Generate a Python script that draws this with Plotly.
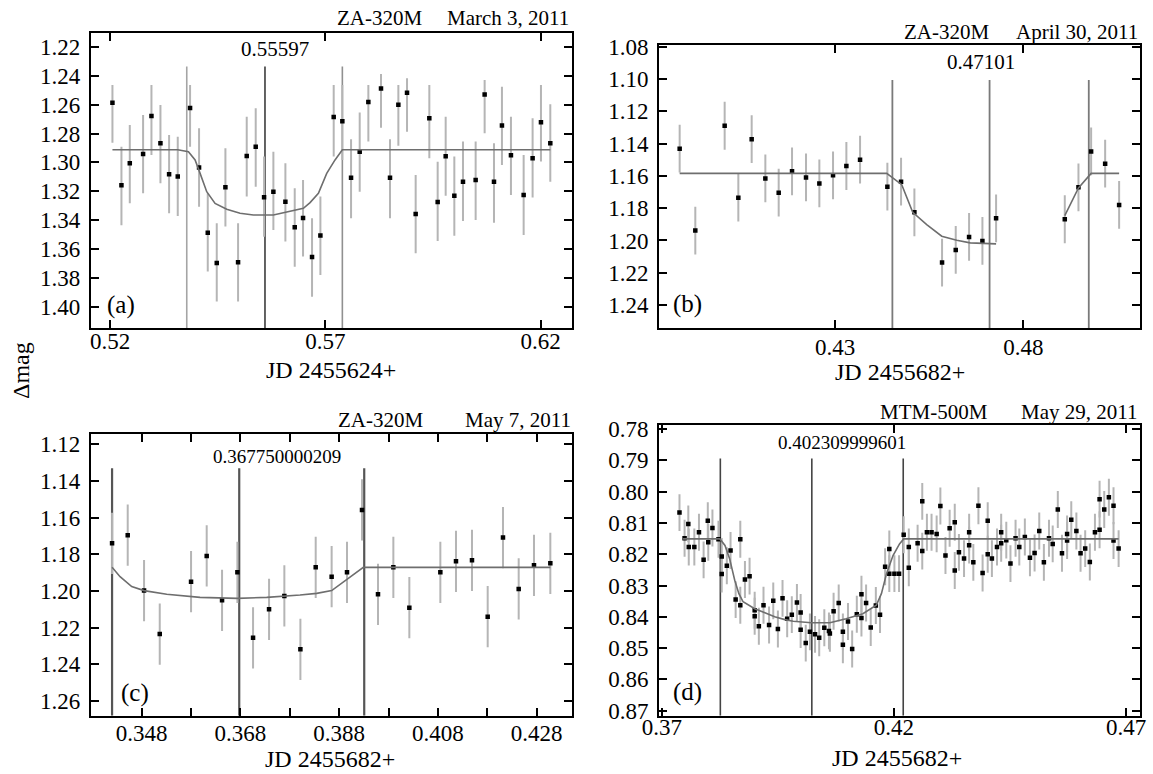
import plotly.graph_objects as go

FONT = "Liberation Serif"

# ---------------- Panel (a): ZA-320M, March 3, 2011 ----------------
A_X = [0.52054, 0.52263, 0.52457, 0.52766, 0.52960, 0.53169, 0.53370, 0.53571, 0.53857, 0.54066,
       0.54268, 0.54477, 0.54678, 0.54972, 0.55173, 0.55382, 0.55576, 0.55792, 0.56071, 0.56288,
       0.56481, 0.56690, 0.56884, 0.57193, 0.57394, 0.57596, 0.57797, 0.57998, 0.58292, 0.58501,
       0.58695, 0.58896, 0.59097, 0.59414, 0.59608, 0.59794, 0.59995, 0.60196, 0.60490, 0.60699,
       0.60916, 0.61101, 0.61310, 0.61605, 0.61813, 0.62007, 0.62224]
A_Y = [1.2586, 1.3159, 1.3006, 1.2942, 1.2678, 1.2868, 1.3083, 1.3097, 1.2623, 1.3036,
       1.3487, 1.3697, 1.3173, 1.3693, 1.2956, 1.2891, 1.3242, 1.3203, 1.3272, 1.3450,
       1.3385, 1.3656, 1.3506, 1.2685, 1.2715, 1.3106, 1.2926, 1.2581, 1.2487, 1.3106,
       1.2600, 1.2517, 1.3358, 1.2694, 1.3274, 1.2958, 1.3231, 1.3134, 1.3122, 1.2530,
       1.3134, 1.2745, 1.2951, 1.3226, 1.2972, 1.2722, 1.2868]
A_BAR_TOP = [1.2463, 1.2891, 1.2741, 1.2671, 1.2463, 1.2602, 1.2810, 1.2822, 1.2463, 1.2764,
             1.3214, 1.3422, 1.2902, 1.3422, 1.2683, 1.2625, 1.2960, 1.2926, 1.3006, 1.3180,
             1.3122, 1.3388, 1.3237, 1.2463, 1.2463, 1.2840, 1.2655, 1.2463, 1.2387, 1.2840,
             1.2463, 1.2417, 1.3087, 1.2463, 1.2995, 1.2683, 1.2960, 1.2856, 1.2856, 1.2429,
             1.2868, 1.2475, 1.2683, 1.2949, 1.2694, 1.2463, 1.2597]
A_BAR_BOT = [1.2863, 1.3436, 1.3284, 1.3214, 1.2949, 1.3145, 1.3353, 1.3372, 1.2891, 1.3307,
             1.3757, 1.3965, 1.3445, 1.3965, 1.3237, 1.3168, 1.3515, 1.3469, 1.3549, 1.3723,
             1.3653, 1.3931, 1.3780, 1.2960, 1.2983, 1.3388, 1.3203, 1.2856, 1.2759, 1.3388,
             1.2884, 1.2787, 1.3630, 1.2972, 1.3545, 1.3231, 1.3508, 1.3406, 1.3399, 1.2798,
             1.3418, 1.3018, 1.3226, 1.3503, 1.3244, 1.2993, 1.3134]
A_FIT_X = [0.52054, 0.53571, 0.53819, 0.53974, 0.54090, 0.54244, 0.54438, 0.54709, 0.55018, 0.55328,
           0.55792, 0.56102, 0.56489, 0.56644, 0.56838, 0.57031, 0.57224, 0.57394, 0.62224]
A_FIT_Y = [1.2912, 1.2912, 1.2926, 1.2983, 1.3076, 1.3203, 1.3284, 1.3325, 1.3353, 1.3365,
           1.3365, 1.3346, 1.3318, 1.3279, 1.3214, 1.3076, 1.2983, 1.2912, 1.2912]
A_EVENTS = [0.53780, 0.55597, 0.57394]
A_EVENT_TOP = 1.2336
A_XTICKS = [0.52, 0.57, 0.62]

# ---------------- Panel (b): ZA-320M, April 30, 2011 ----------------
B_X = [0.38877, 0.39292, 0.40071, 0.40434, 0.40788, 0.41151, 0.41505, 0.41859, 0.42230, 0.42584,
       0.42947, 0.43301, 0.43664, 0.44389, 0.44752, 0.45106, 0.45840, 0.46203, 0.46557, 0.46911,
       0.47274, 0.49097, 0.49460, 0.49796, 0.50168, 0.50539]
B_Y = [1.1432, 1.1939, 1.1290, 1.1735, 1.1373, 1.1616, 1.1704, 1.1572, 1.1610, 1.1647,
       1.1597, 1.1539, 1.1500, 1.1667, 1.1636, 1.1826, 1.2137, 1.2059, 1.1978, 1.2003,
       1.1863, 1.1869, 1.1671, 1.1449, 1.1525, 1.1780]
B_ERR = 0.0148
B_FIT_X = [0.38877, 0.44372, 0.44770, 0.45062, 0.45433, 0.45832, 0.46230, 0.46587, 0.47274, None,
           0.49097, 0.49460, 0.49796, 0.50539]
B_FIT_Y = [1.1585, 1.1585, 1.1655, 1.1826, 1.1902, 1.1974, 1.1999, 1.2015, 1.2021, None,
           1.1846, 1.1675, 1.1585, 1.1585]
B_EVENTS = [0.44522, 0.47101, 0.49734]
B_EVENT_TOP = 1.1006
B_XTICKS = [0.43, 0.48]

# ---------------- Panel (c): ZA-320M, May 7, 2011 ----------------
C_X = [0.34199, 0.34516, 0.34847, 0.35165, 0.35799, 0.36116, 0.36427, 0.36738, 0.37055, 0.37379,
       0.37689, 0.38014, 0.38324, 0.38647, 0.38958, 0.39262, 0.39586, 0.39897, 0.40221, 0.40849,
       0.41166, 0.41490, 0.41808, 0.42118, 0.42436, 0.42746, 0.43077]
C_Y = [1.1740, 1.1696, 1.1998, 1.2235, 1.1949, 1.1809, 1.2051, 1.1898, 1.2255, 1.2100,
       1.2027, 1.2318, 1.1871, 1.1922, 1.1898, 1.1558, 1.2018, 1.1871, 1.2091, 1.1898,
       1.1838, 1.1833, 1.2140, 1.1709, 1.1989, 1.1860, 1.1849]
C_ERR = 0.0167
C_FIT_X = [0.34199, 0.34361, 0.34597, 0.34847, 0.35306, 0.35981, 0.36738, 0.37332, 0.38007, 0.38344,
           0.38648, 0.38952, 0.39121, 0.39289, 0.43077]
C_FIT_Y = [1.1871, 1.1922, 1.1976, 1.1998, 1.2018, 1.2035, 1.2040, 1.2035, 1.2022, 1.2013,
           1.1998, 1.1940, 1.1904, 1.1871, 1.1871]
C_EVENTS = [0.34199, 0.36775, 0.39307]
C_EVENT_TOP = 1.1331
C_XTICKS = [0.348, 0.358, 0.368, 0.378, 0.388, 0.398, 0.408, 0.418, 0.428]
C_XTICKTEXT = ["0.348", "", "0.368", "", "0.388", "", "0.408", "", "0.428"]

# ---------------- Panel (d): MTM-500M, May 29, 2011 ----------------
D_X = [0.3738, 0.3749, 0.3757, 0.3758, 0.3770, 0.3780, 0.3790, 0.3799, 0.3800, 0.3809,
       0.3822, 0.3829, 0.3829, 0.3840, 0.3848, 0.3859, 0.3869, 0.3869, 0.3879, 0.3889,
       0.3900, 0.3900, 0.3909, 0.3919, 0.3931, 0.3940, 0.3950, 0.3960, 0.3970, 0.3980,
       0.3991, 0.3999, 0.3999, 0.4010, 0.4019, 0.4030, 0.4039, 0.4050, 0.4060, 0.4062,
       0.4070, 0.4081, 0.4090, 0.4090, 0.4101, 0.4110, 0.4120, 0.4130, 0.4130, 0.4140,
       0.4150, 0.4161, 0.4170, 0.4181, 0.4190, 0.4190, 0.4201, 0.4211, 0.4221, 0.4232,
       0.4232, 0.4251, 0.4261, 0.4261, 0.4271, 0.4281, 0.4292, 0.4300, 0.4311, 0.4320,
       0.4331, 0.4331, 0.4340, 0.4351, 0.4362, 0.4362, 0.4371, 0.4382, 0.4391, 0.4402,
       0.4402, 0.4411, 0.4422, 0.4431, 0.4431, 0.4442, 0.4451, 0.4462, 0.4470, 0.4482,
       0.4493, 0.4503, 0.4513, 0.4523, 0.4534, 0.4542, 0.4553, 0.4562, 0.4573, 0.4573,
       0.4582, 0.4593, 0.4602, 0.4612, 0.4622, 0.4633, 0.4643, 0.4643, 0.4653, 0.4663,
       0.4673, 0.4673, 0.4684]
D_Y = [0.8067, 0.8149, 0.8103, 0.8177, 0.8177, 0.8130, 0.8218, 0.8093, 0.8162, 0.8116,
       0.8152, 0.8207, 0.8263, 0.8237, 0.8188, 0.8345, 0.8152, 0.8363, 0.8281, 0.8270,
       0.8379, 0.8398, 0.8430, 0.8363, 0.8426, 0.8349, 0.8439, 0.8341, 0.8406, 0.8393,
       0.8354, 0.8386, 0.8441, 0.8484, 0.8448, 0.8456, 0.8467, 0.8435, 0.8445, 0.8453,
       0.8382, 0.8356, 0.8448, 0.8489, 0.8415, 0.8503, 0.8392, 0.8328, 0.8404, 0.8356,
       0.8434, 0.8364, 0.8393, 0.8240, 0.8183, 0.8262, 0.8262, 0.8262, 0.8138, 0.8243,
       0.8177, 0.8165, 0.8031, 0.8190, 0.8130, 0.8130, 0.8135, 0.8046, 0.8204, 0.8117,
       0.8098, 0.8252, 0.8194, 0.8214, 0.8130, 0.8171, 0.8226, 0.8045, 0.8260, 0.8093,
       0.8200, 0.8214, 0.8177, 0.8130, 0.8165, 0.8155, 0.8230, 0.8149, 0.8177, 0.8145,
       0.8211, 0.8196, 0.8126, 0.8226, 0.8149, 0.8167, 0.8057, 0.8197, 0.8135, 0.8156,
       0.8090, 0.8126, 0.8197, 0.8182, 0.8225, 0.8130, 0.8024, 0.8122, 0.8057, 0.8018,
       0.8045, 0.8156, 0.8182]
D_ERR = 0.0059
D_FIT_X = [0.3745, 0.3825, 0.3836, 0.3846, 0.3857, 0.3866, 0.3875, 0.3900, 0.3922, 0.3943,
           0.3965, 0.3983, 0.4022, 0.4062, 0.4097, 0.4133, 0.4162, 0.4173, 0.4184, 0.4198,
           0.4212, 0.4221, 0.4684]
D_FIT_Y = [0.8151, 0.8151, 0.8172, 0.8214, 0.8283, 0.8326, 0.8352, 0.8374, 0.8387, 0.8400,
           0.8409, 0.8414, 0.8419, 0.8419, 0.8406, 0.8390, 0.8363, 0.8326, 0.8262, 0.8204,
           0.8167, 0.8151, 0.8151]
D_EVENTS = [0.3826, 0.40231, 0.4220]
D_EVENT_TOP = 0.7894
D_XTICKS = [0.37, 0.42, 0.47]

# ---------------- styling ----------------
PT_COLOR = "black"
BAR_COLOR = "#b5b5b5"
FIT_COLOR = "#6e6e6e"

W, H = 1153, 774


def px(x):
    return x / W


def py(y):
    return 1 - y / H


fig = go.Figure()

panels = [
    dict(xa="x", ya="y", X=A_X, Y=A_Y, err=dict(type="data", symmetric=False,
         array=[b - y for b, y in zip(A_BAR_BOT, A_Y)],
         arrayminus=[y - t for t, y in zip(A_BAR_TOP, A_Y)]),
         FX=A_FIT_X, FY=A_FIT_Y, EV=A_EVENTS, EVT=A_EVENT_TOP, ybot=1.415,
         evcol=["#a5a5a5", "#3c3c3c", "#909090"], evw=1.6),
    dict(xa="x2", ya="y2", X=B_X, Y=B_Y, err=dict(type="constant", value=B_ERR),
         FX=B_FIT_X, FY=B_FIT_Y, EV=B_EVENTS, EVT=B_EVENT_TOP, ybot=1.2544,
         evcol=["#7a7a7a", "#7a7a7a", "#7a7a7a"], evw=1.8),
    dict(xa="x3", ya="y3", X=C_X, Y=C_Y, err=dict(type="constant", value=C_ERR),
         FX=C_FIT_X, FY=C_FIT_Y, EV=C_EVENTS, EVT=C_EVENT_TOP, ybot=1.268,
         evcol=["#555555", "#555555", "#555555"], evw=2.2),
    dict(xa="x4", ya="y4", X=D_X, Y=D_Y, err=dict(type="constant", value=D_ERR),
         FX=D_FIT_X, FY=D_FIT_Y, EV=D_EVENTS, EVT=D_EVENT_TOP, ybot=0.8716,
         evcol=["#444444", "#444444", "#444444"], evw=1.6),
]

for p in panels:
    for ev, col in zip(p["EV"], p["evcol"]):
        fig.add_trace(go.Scatter(x=[ev, ev], y=[p["EVT"], p["ybot"]], mode="lines",
                                 line=dict(color=col, width=p["evw"]),
                                 xaxis=p["xa"], yaxis=p["ya"], showlegend=False,
                                 hoverinfo="skip"))
    err = dict(p["err"])
    err.update(color=BAR_COLOR, thickness=2, width=0)
    fig.add_trace(go.Scatter(x=p["X"], y=p["Y"], mode="markers",
                             marker=dict(symbol="square", size=4.5, color=PT_COLOR),
                             error_y=err, xaxis=p["xa"], yaxis=p["ya"], showlegend=False))
    fig.add_trace(go.Scatter(x=p["FX"], y=p["FY"], mode="lines",
                             line=dict(color=FIT_COLOR, width=1.6),
                             xaxis=p["xa"], yaxis=p["ya"], showlegend=False,
                             connectgaps=False))

TICK_SIZE = 23


def axis(**kw):
    base = dict(showline=True, linecolor="black", linewidth=2, mirror="ticks",
                ticks="inside", ticklen=8, tickwidth=1.5, tickcolor="black",
                showgrid=False, zeroline=False, automargin=False,
                tickfont=dict(family=FONT, size=TICK_SIZE, color="black"))
    base.update(kw)
    return base


XA = [0.0787, 0.4958]
XB = [0.5716, 0.9883]
fig.update_layout(
    width=W, height=H, margin=dict(l=0, r=0, t=0, b=0, autoexpand=False),
    paper_bgcolor="white", plot_bgcolor="white",
    xaxis=axis(domain=XA, anchor="y", range=[0.5155, 0.6272], tickvals=A_XTICKS,
               tickformat=".2f", ticklabelstandoff=-9),
    yaxis=axis(domain=[py(328.3), py(32.7)], anchor="x", range=[1.415, 1.2101],
               tick0=1.22, dtick=0.02, tickformat=".2f", ticklabelstandoff=4),
    xaxis2=axis(domain=XB, anchor="y2", range=[0.3833, 0.5108], tickvals=B_XTICKS,
                tickformat=".2f", ticklabelstandoff=-3),
    yaxis2=axis(domain=[py(328.3), py(45)], anchor="x2", range=[1.2544, 1.079],
                tick0=1.08, dtick=0.02, tickformat=".2f", ticklabelstandoff=4),
    xaxis3=axis(domain=XA, anchor="y3", range=[0.33767, 0.43509], tickvals=C_XTICKS,
                ticktext=C_XTICKTEXT, ticklabelstandoff=-4),
    yaxis3=axis(domain=[py(715.7), py(434)], anchor="x3", range=[1.268, 1.1144],
                tick0=1.12, dtick=0.02, tickformat=".2f", ticklabelstandoff=4),
    xaxis4=axis(domain=XB, anchor="y4", range=[0.3694, 0.4729], tickvals=D_XTICKS,
                tickformat=".2f", ticklabelstandoff=-10),
    yaxis4=axis(domain=[py(715.7), py(425)], anchor="x4", range=[0.8716, 0.7787],
                tick0=0.78, dtick=0.01, tickformat=".2f", ticklabelstandoff=4),
)

ann = []


def text(x, y, s, size, **kw):
    d = dict(x=px(x), y=py(y), xref="paper", yref="paper", text=s, showarrow=False,
             font=dict(family=FONT, size=size, color="black"), xanchor="center",
             yanchor="middle")
    d.update(kw)
    ann.append(d)


HEAD = 21
# instrument / date headers
text(379.5, 18, "ZA-320M", HEAD)
text(508, 18, "March 3, 2011", HEAD)
text(946.5, 31.7, "ZA-320M", HEAD)
text(1076.5, 31.7, "April 30, 2011", HEAD)
text(380, 420, "ZA-320M", HEAD)
text(517.5, 420, "May 7, 2011", HEAD)
text(934, 411.7, "MTM-500M", HEAD)
text(1079, 411.7, "May 29, 2011", HEAD)

# panel letters
text(120.8, 305, "(a)", 25)
text(687.5, 304, "(b)", 25)
text(135, 693, "(c)", 25)
text(687.5, 691.7, "(d)", 25)

# axis titles
text(331, 370, "JD 2455624+", 24)
text(900, 372, "JD 2455682+", 24)
text(330, 759, "JD 2455682+", 24)
text(897, 758, "JD 2455682+", 24)
text(21, 370, "Δmag", 24, textangle=-90)

# event labels (attached to the mid-eclipse line of each panel)
for xa, ev, shift, ypix, s, fs in [("x", A_EVENTS[1], 10, 49, "0.55597", 21),
                                   ("x2", B_EVENTS[1], -9, 61.7, "0.47101", 21),
                                   ("x3", C_EVENTS[1], 38, 456, "0.367750000209", 19),
                                   ("x4", D_EVENTS[1], 30, 442.7, "0.402309999601", 19)]:
    ann.append(dict(x=ev, xref=xa, y=py(ypix), yref="paper", text=s, showarrow=False,
                    xshift=shift, xanchor="center", yanchor="middle",
                    font=dict(family=FONT, size=fs, color="black")))

fig.update_layout(annotations=ann)

fig.write_html("out.html")
